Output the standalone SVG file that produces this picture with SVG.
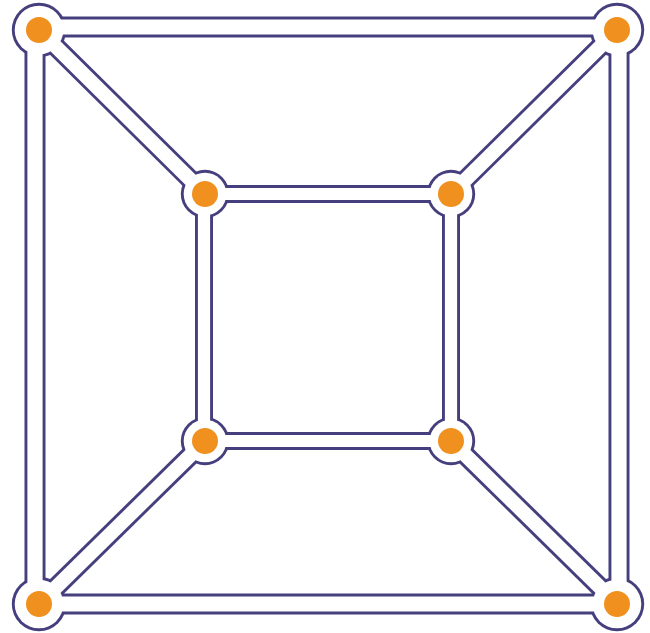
<svg xmlns="http://www.w3.org/2000/svg" width="650" height="633" viewBox="0 0 650 633">
  <style>
    .ol { stroke: #463f7e; fill: none; }
    .fl { stroke: #ffffff; fill: none; }
    .outer.ol { stroke-width: 21; }
    .outer.fl { stroke-width: 15.2; }
    .inner.ol { stroke-width: 18; }
    .inner.fl { stroke-width: 12.2; }
    .diag.ol { stroke-width: 20; }
    .diag.fl { stroke-width: 14.2; }
    .ring { fill: #463f7e; }
    .halo { fill: #ffffff; }
    .dot { fill: #f0901f; }
  </style>
  <rect width="650" height="633" fill="#ffffff"/>
  <g id="connectors-outline">
    <line class="outer ol" x1="39" y1="27" x2="617" y2="27"/>
    <line class="outer ol" x1="35" y1="30" x2="35" y2="604"/>
    <line class="outer ol" x1="619" y1="30" x2="619" y2="604"/>
    <line class="outer ol" x1="39" y1="604" x2="617" y2="604"/>
    <line class="inner ol" x1="205" y1="194" x2="451" y2="194"/>
    <line class="inner ol" x1="204" y1="194" x2="204" y2="441"/>
    <line class="inner ol" x1="451" y1="194" x2="451" y2="441"/>
    <line class="inner ol" x1="205" y1="441" x2="451" y2="441"/>
    <line class="diag ol" x1="39" y1="30" x2="205" y2="194"/>
    <line class="diag ol" x1="617" y1="30" x2="451" y2="194"/>
    <line class="diag ol" x1="39" y1="604" x2="205" y2="441"/>
    <line class="diag ol" x1="617" y1="604" x2="451" y2="441"/>
  </g>
  <g id="node-tl"><circle class="ring" cx="39" cy="30" r="27.2"/><circle class="halo" cx="39" cy="30" r="24.3"/><circle class="dot" cx="39" cy="30" r="13"/></g>
  <g id="node-tr"><circle class="ring" cx="617" cy="30" r="27.2"/><circle class="halo" cx="617" cy="30" r="24.3"/><circle class="dot" cx="617" cy="30" r="13"/></g>
  <g id="node-bl"><circle class="ring" cx="39" cy="604" r="27.2"/><circle class="halo" cx="39" cy="604" r="24.3"/><circle class="dot" cx="39" cy="604" r="13"/></g>
  <g id="node-br"><circle class="ring" cx="617" cy="604" r="27.2"/><circle class="halo" cx="617" cy="604" r="24.3"/><circle class="dot" cx="617" cy="604" r="13"/></g>
  <g id="node-itl"><circle class="ring" cx="205" cy="194" r="24.2"/><circle class="halo" cx="205" cy="194" r="21.3"/><circle class="dot" cx="205" cy="194" r="13"/></g>
  <g id="node-itr"><circle class="ring" cx="451" cy="194" r="24.2"/><circle class="halo" cx="451" cy="194" r="21.3"/><circle class="dot" cx="451" cy="194" r="13"/></g>
  <g id="node-ibl"><circle class="ring" cx="205" cy="441" r="24.2"/><circle class="halo" cx="205" cy="441" r="21.3"/><circle class="dot" cx="205" cy="441" r="13"/></g>
  <g id="node-ibr"><circle class="ring" cx="451" cy="441" r="24.2"/><circle class="halo" cx="451" cy="441" r="21.3"/><circle class="dot" cx="451" cy="441" r="13"/></g>
  <g id="connectors-fill">
    <line class="outer fl" x1="56" y1="27" x2="600" y2="27"/>
    <line class="outer fl" x1="35" y1="47" x2="35" y2="587"/>
    <line class="outer fl" x1="619" y1="47" x2="619" y2="587"/>
    <line class="outer fl" x1="56" y1="604" x2="600" y2="604"/>
    <line class="inner fl" x1="222" y1="194" x2="434" y2="194"/>
    <line class="inner fl" x1="204" y1="211" x2="204" y2="424"/>
    <line class="inner fl" x1="451" y1="211" x2="451" y2="424"/>
    <line class="inner fl" x1="222" y1="441" x2="434" y2="441"/>
    <line class="diag fl" x1="51.1" y1="42" x2="192.9" y2="182.1"/>
    <line class="diag fl" x1="604.9" y1="42" x2="463.1" y2="182.1"/>
    <line class="diag fl" x1="51.1" y1="592.1" x2="192.9" y2="452.9"/>
    <line class="diag fl" x1="604.9" y1="592.1" x2="463.1" y2="452.9"/>
  </g>
</svg>
